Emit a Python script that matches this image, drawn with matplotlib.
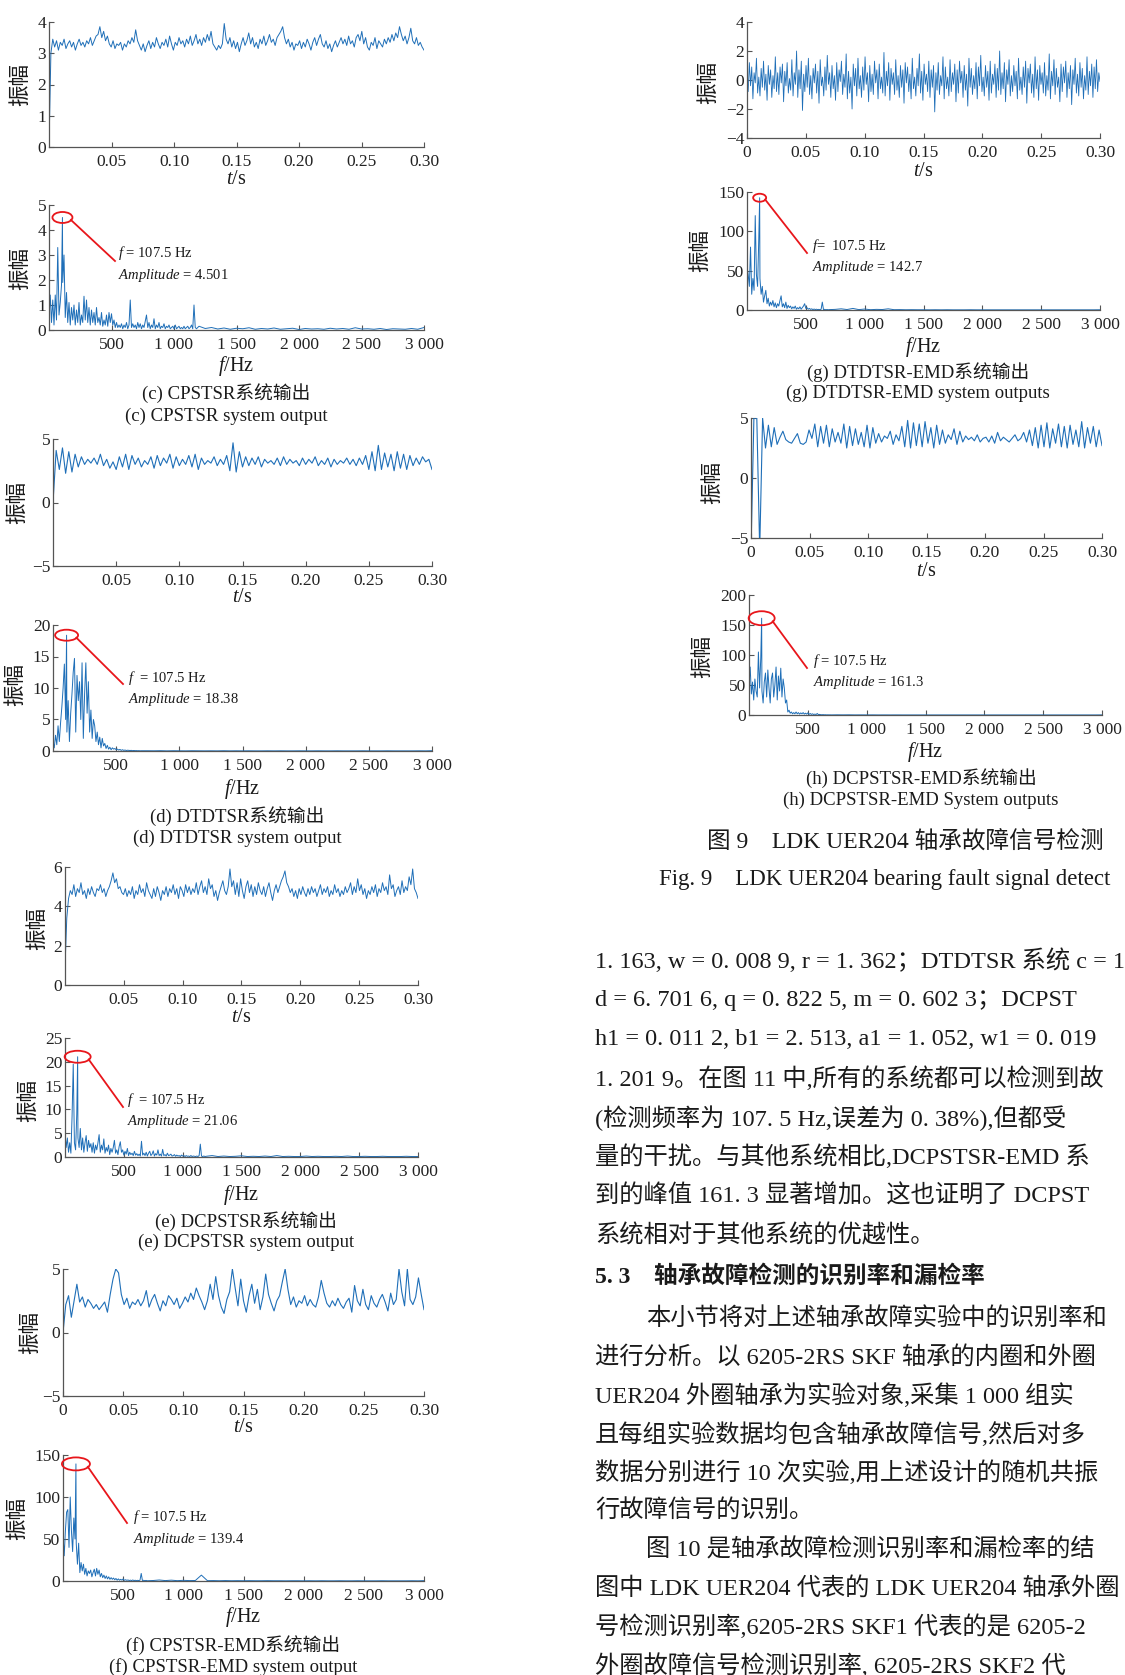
import numpy as np
import matplotlib.pyplot as plt
from matplotlib.patches import Ellipse
from matplotlib.lines import Line2D

plt.rcParams['font.family'] = ['Liberation Serif', 'Noto Sans CJK SC']
plt.rcParams['mathtext.fontset'] = 'custom'
plt.rcParams['mathtext.rm'] = 'Liberation Serif'
plt.rcParams['mathtext.it'] = 'Liberation Serif:italic'
plt.rcParams['axes.unicode_minus'] = True

# ---- time-domain outputs (0 .. 0.3 s) ----
b_time = [0.0, 3.0, 3.45, 3.2, 3.4, 3.1, 3.35, 3.25, 3.45, 3.15, 3.3, 3.4, 3.2, 3.35, 3.1, 3.3, 3.45, 3.25, 3.35, 3.2,
          3.4, 3.3, 3.5, 3.25, 3.4, 3.55, 3.6, 3.85, 3.5, 3.7, 3.4, 3.55, 3.3, 3.2, 3.4, 3.15, 3.3, 3.25, 3.35, 3.1,
          3.3, 3.2, 3.4, 3.3, 3.5, 3.35, 3.75, 3.4, 3.25, 3.1, 3.3, 3.05, 3.25, 3.4, 3.15, 3.35, 3.2, 3.5, 3.3, 3.15,
          3.35, 3.25, 3.45, 3.2, 3.55, 3.3, 3.1, 3.35, 3.25, 3.5, 3.3, 3.4, 3.2, 3.45, 3.3, 3.55, 3.25, 3.4, 3.6, 3.3,
          3.45, 3.25, 3.5, 3.35, 3.6, 3.4, 3.7, 3.3, 3.2, 3.1, 3.25, 3.15, 3.3, 3.95, 3.45, 3.3, 3.5, 3.2, 3.4, 3.15,
          3.35, 3.05, 3.3, 3.5, 3.25, 3.4, 3.65, 3.3, 3.5, 3.2, 3.35, 3.15, 3.45, 3.3, 3.55, 3.25, 3.4, 3.6, 3.35, 3.45,
          3.25, 3.5, 3.6, 3.7, 3.85, 3.5, 3.3, 3.45, 3.2, 3.35, 3.1, 3.3, 3.25, 3.4, 3.15, 3.35, 3.2, 3.45, 3.3, 3.1,
          3.35, 3.5, 3.25, 3.45, 3.6, 3.3, 3.2, 3.4, 3.15, 3.3, 3.05, 3.25, 3.4, 3.2, 3.35, 3.5, 3.3, 3.45, 3.25, 3.55,
          3.3, 3.4, 3.2, 3.5, 3.6, 3.4, 3.7, 3.3, 3.5, 3.2, 3.1, 3.35, 3.25, 3.5, 3.15, 3.4, 3.3, 3.2, 3.45, 3.3,
          3.5, 3.35, 3.6, 3.4, 3.65, 3.5, 3.85, 3.6, 3.4, 3.55, 3.3, 3.5, 3.8, 3.4, 3.3, 3.5, 3.25, 3.35, 3.2, 3.1]
d_time = [0.0, 4.1, 2.6, 4.3, 2.3, 4.0, 2.4, 3.8, 2.8, 3.6, 3.0, 3.4, 3.1, 3.5, 3.0, 3.8, 2.9,
          3.4, 2.7, 3.2, 2.6, 3.6, 2.8, 3.8, 2.6, 3.7, 3.0, 3.5, 2.8, 3.3, 3.0, 3.6, 2.7, 3.7,
          2.9, 3.5, 3.1, 3.8, 2.7, 3.6, 2.9, 3.4, 3.0, 3.7, 2.8, 3.8, 2.6, 3.5, 3.0, 3.3, 3.1,
          3.6, 2.9, 3.4, 3.0, 3.7, 2.5, 4.7, 2.4, 4.0, 2.8, 3.6, 2.9, 3.5, 3.0, 3.6, 2.8, 3.4,
          3.1, 3.3, 3.0, 3.5, 2.9, 3.6, 3.0, 3.4, 3.1, 3.3, 2.9, 3.5, 3.0, 3.4, 3.1, 3.6, 2.9,
          3.3, 3.0, 3.5, 2.8, 3.4, 3.0, 3.3, 3.1, 3.5, 3.0, 3.4, 2.9, 3.5, 3.0, 3.7, 2.6, 4.0,
          2.5, 4.5, 2.6, 3.9, 2.8, 3.8, 2.5, 4.0, 2.7, 3.8, 2.6, 3.7, 2.9, 3.5, 3.0, 3.6, 3.2,
          3.4, 2.6]
e_time = [0.9, 3.4, 4.4, 4.8, 4.6, 5.1, 4.5, 4.9, 4.7, 5.2, 4.6, 4.8, 4.4, 4.9, 4.6, 5.0, 4.7, 4.5, 4.9, 4.8,
          5.1, 4.7, 4.9, 4.5, 4.8, 5.0, 5.3, 5.7, 5.2, 5.4, 4.9, 5.0, 4.7, 4.6, 4.9, 4.5, 4.8, 4.6, 5.0, 4.4,
          4.8, 4.6, 5.1, 4.7, 4.9, 4.5, 5.2, 4.8, 4.6, 4.4, 4.9, 4.5, 5.0, 4.7, 4.3, 4.8, 4.6, 5.0, 4.5, 4.9,
          4.7, 5.1, 4.6, 4.9, 4.4, 5.0, 4.8, 4.5, 5.1, 4.7, 5.0, 4.6, 4.9, 4.7, 5.2, 4.6, 5.0, 5.3, 4.7, 5.0,
          4.6, 5.4, 4.9, 5.1, 4.5, 4.8, 4.3, 4.7, 5.0, 5.3, 4.8, 4.6, 5.0, 5.9, 5.0, 5.3, 4.6, 5.2, 4.5, 5.4,
          4.8, 4.4, 5.0, 5.3, 4.7, 5.1, 4.5, 5.0, 4.6, 5.2, 4.8, 4.6, 5.0, 4.5, 4.9, 5.2, 4.7, 4.3, 4.8, 5.1,
          4.7, 5.0, 5.3, 5.5, 5.8, 5.2, 5.0, 4.7, 4.9, 4.5, 4.8, 4.4, 4.9, 4.6, 5.0, 4.7, 4.5, 4.9, 4.6, 5.0,
          4.7, 4.9, 4.5, 4.8, 5.1, 4.6, 4.9, 4.7, 5.0, 4.5, 4.8, 4.6, 5.1, 4.7, 4.9, 4.5, 4.8, 4.6, 5.0, 4.7,
          4.9, 5.2, 4.6, 5.0, 4.7, 5.4, 4.8, 5.1, 4.6, 4.9, 4.4, 4.8, 4.6, 5.0, 4.7, 5.1, 4.5, 4.9, 4.7, 5.2,
          4.8, 5.0, 4.6, 5.6, 4.9, 5.1, 4.5, 4.8, 5.0, 4.6, 5.3, 4.7, 5.0, 4.8, 5.5, 5.1, 5.9, 4.9, 4.7, 4.4]
f_time = [0.0, 2.2, 2.9, 1.2, 2.5, 3.8, 2.4, 2.8, 2.0, 2.6, 2.3, 1.9, 2.2, 1.8, 2.1, 2.4, 1.6,
          3.0, 4.2, 5.0, 4.7, 3.0, 2.2, 2.7, 1.9, 2.4, 2.2, 2.6, 2.1, 2.5, 3.3, 2.0, 2.6, 3.0,
          2.3, 1.7, 2.5, 2.1, 2.9, 2.6, 2.2, 2.7, 1.9, 2.3, 2.8, 2.4, 3.1, 2.6, 3.5, 2.9, 2.4,
          1.8, 2.5, 3.8, 2.6, 4.4, 2.9, 2.0, 1.5, 2.6, 3.2, 5.0, 3.5, 2.1, 4.2, 2.5, 1.6, 2.9,
          3.8, 2.3, 3.4, 1.8, 2.8, 4.6, 3.0, 2.3, 1.7, 2.5, 2.9, 4.0, 5.0, 3.4, 2.2, 2.8, 2.0,
          2.5, 2.3, 2.9, 2.1, 2.6, 2.2, 2.0, 2.8, 4.1, 3.1, 2.3, 2.0, 2.5, 2.1, 2.7, 2.2, 1.9,
          2.4, 2.7, 1.6, 3.7, 2.5, 2.1, 3.4, 2.2, 1.8, 2.9, 2.3, 2.0, 2.6, 3.0, 2.4, 1.7, 3.1,
          2.2, 2.6, 5.0, 3.2, 2.1, 5.0, 2.6, 2.2, 2.8, 4.3, 3.0, 1.8]
g_time = [0.3, -0.8, 1.2, -0.4, 0.9, -1.3, 0.5, -0.2, 1.5, -0.9, 0.2, -1.1, 0.8, -0.5, 1.3, -0.7, 0.4, -1.4, 1.0, -0.3,
          0.7, -1.2, 0.3, -0.6, 1.6, -0.8, 0.5, -1.0, 0.9, -0.2, 1.1, -1.5, 0.6, -0.4, 1.2, -0.9, 0.1, -0.7, 1.4, -1.1,
          0.5, -0.3, 2.0, -1.2, 0.7, -0.6, 1.3, -2.1, 0.4, -0.8, 1.0, -0.5, 1.5, -1.0, 0.3, -1.3, 0.8, -0.2, 1.1, -0.9,
          0.6, -1.6, 1.4, -0.4, 0.2, -1.1, 0.9, -0.7, 1.7, -0.3, 0.5, -1.2, 1.0, -0.6, 0.3, -1.4, 1.2, -0.8, 0.7, -0.1,
          1.3, -1.0, 0.4, -0.5, 1.8, -1.3, 0.6, -0.9, 0.2, -2.0, 1.1, -0.4, 0.8, -1.1, 1.5, -0.6, 0.3, -1.2, 0.9, -0.7,
          1.6, -0.3, 0.5, -1.5, 1.0, -0.8, 0.4, -1.0, 1.3, -0.2, 0.7, -1.3, 1.1, -0.6, 0.2, -0.9, 1.9, -1.1, 0.6, -0.4,
          1.2, -1.4, 0.8, -0.3, 0.5, -1.0, 1.4, -0.7, 0.3, -1.2, 1.0, -0.5, 0.7, -1.6, 1.2, -0.2, 0.9, -0.8, 0.4, -1.3,
          1.5, -0.6, 0.2, -1.1, 0.8, -0.4, 1.8, -0.9, 0.6, -1.4, 1.1, -0.3, 0.4, -0.8, 1.3, -1.2, 0.7, -0.5, 1.0, -2.2,
          0.5, -0.7, 1.2, -1.0, 0.3, -0.4, 1.6, -1.3, 0.9, -0.6, 0.2, -1.1, 1.4, -0.8, 0.5, -0.3, 1.1, -1.5, 0.7, -0.9,
          1.3, -0.2, 0.6, -1.2, 1.0, -0.7, 0.4, -1.8, 1.5, -0.5, 0.8, -1.0, 0.3, -0.6, 1.2, -1.3, 0.9, -0.4, 1.7, -0.8,
          0.2, -1.1, 1.0, -0.5, 0.6, -1.4, 1.3, -0.9, 0.4, -0.3, 1.1, -1.2, 0.8, -0.7, 2.0, -1.0, 0.5, -0.6, 1.2, -1.5,
          0.7, -0.3, 1.4, -1.1, 0.3, -0.8, 1.0, -0.4, 0.6, -1.3, 1.5, -0.7, 0.2, -1.0, 0.9, -0.5, 1.3, -1.6, 0.8, -0.2,
          1.1, -0.9, 0.4, -1.2, 1.6, -0.6, 0.7, -1.4, 1.0, -0.3, 0.5, -0.9, 1.2, -1.1, 0.3, -0.7, 1.8, -1.3, 0.6, -0.4,
          1.4, -1.0, 0.8, -0.5, 0.2, -1.5, 1.1, -0.8, 0.9, -0.2, 1.3, -1.2, 0.5, -0.6, 1.0, -1.7, 0.7, -0.3, 1.5, -0.9,
          0.4, -1.1, 1.2, -0.5, 0.8, -1.3, 0.3, -0.7, 1.6, -1.0, 0.6, -0.4, 1.1, -1.2, 0.9, -0.6, 1.4, -0.8, 0.5, -0.1]
h_time = [-6.0, 5.0, 5.0, -6.0, 5.0, 2.5, 4.4, 2.6, 4.2, 2.8, 3.4, 3.9, 3.2, 3.0, 2.9, 3.3,
          3.7, 2.9, 2.8, 3.0, 4.0, 3.3, 4.5, 2.6, 4.3, 2.9, 4.4, 2.6, 4.1, 3.0, 3.8, 2.9, 4.5,
          2.5, 4.3, 2.7, 4.1, 2.8, 3.8, 2.6, 4.4, 2.5, 4.2, 2.9, 3.7, 3.0, 3.5, 3.3, 3.9, 2.8,
          3.6, 3.1, 4.3, 2.6, 4.8, 2.5, 4.6, 2.7, 4.5, 2.6, 4.7, 2.9, 4.2, 2.5, 4.4, 2.8, 4.0,
          2.9, 3.6, 3.2, 4.1, 2.8, 3.9, 3.0, 3.5, 3.2, 3.4, 3.1, 3.6, 3.0, 3.3, 3.4, 3.0, 3.5,
          2.9, 3.8, 3.1, 3.4, 3.2, 3.0, 3.3, 3.6, 3.1, 3.3, 3.8, 3.0, 4.0, 2.7, 4.2, 2.5, 4.4,
          2.6, 4.6, 2.5, 4.1, 2.9, 4.5, 2.6, 4.3, 2.5, 4.4, 2.8, 4.0, 2.6, 4.7, 2.5, 4.2, 2.9,
          4.3, 2.6, 4.0, 2.7]

# ---- amplitude spectra: 10 Hz bins for the low band, 50 Hz bins up to 3000 Hz ----
PEAK_F = 107.5
c_low = [0.5, 1.4, 0.3, 1.2, 0.2, 1.4, 0.4, 3.3, 0.6, 1.1, 1.8, 1.9, 3.0, 0.5, 1.5, 0.3, 1.1,
         0.2, 0.9, 0.4, 1.0, 0.2, 0.8, 0.3, 1.1, 0.2, 0.6, 0.3, 1.35, 0.4, 1.2, 0.3, 0.9, 0.2,
         0.8, 0.3, 0.7, 0.2, 0.9, 0.3, 0.5, 0.2, 0.7, 0.15, 0.4, 0.2, 0.6, 0.15, 0.7, 0.3, 0.65,
         0.2, 0.4, 0.1, 0.3, 0.1, 0.2, 0.1, 0.25, 0.05, 0.2, 0.1, 0.3, 0.05, 0.2, 1.2, 0.1,
         0.25, 0.1, 0.2, 0.05, 0.3, 0.1, 0.25, 0.05, 0.2, 0.1, 0.35, 0.6, 0.1, 0.3, 0.05, 0.2,
         0.1, 0.45, 0.05, 0.2, 0.1, 0.3, 0.05, 0.15, 0.1, 0.25, 0.05, 0.15, 0.1, 0.2, 0.05, 0.1,
         0.15, 0.05, 0.2, 0.05, 0.1, 0.15, 0.05, 0.1, 0.05, 0.15, 0.05, 0.1, 0.15, 0.05, 0.1,
         0.2, 0.05, 1.0, 0.1, 0.05, 0.1, 0.15]
c_tail = [0.06, 0.1, 0.04, 0.08, 0.03, 0.07, 0.05, 0.09, 0.03, 0.06, 0.04, 0.08, 0.03, 0.05,
          0.07, 0.02, 0.06, 0.04, 0.05, 0.03, 0.07, 0.04, 0.06, 0.03, 0.09, 0.04, 0.05, 0.03,
          0.06, 0.02, 0.05, 0.04, 0.03, 0.06, 0.03, 0.1]
c_peak = 4.501

d_low = [1.5, 0.5, 2.5, 1.0, 4.0, 1.5, 4.5, 7.0, 10.0, 13.8, 5.0, 3.0, 8.0, 1.5, 6.0, 9.0,
         12.5, 14.7, 3.0, 12.0, 8.0, 11.0, 5.0, 14.0, 2.0, 9.0, 14.0, 6.0, 11.0, 3.0, 6.5, 2.0,
         5.0, 4.0, 1.5, 3.0, 1.0, 2.2, 0.5, 2.0, 0.8, 1.2, 0.4, 0.9, 0.3, 0.6, 0.2, 0.5, 0.3,
         0.4, 0.2, 0.3, 0.15, 0.25, 0.1, 0.2, 0.1, 0.15, 0.08, 0.12, 0.1, 0.08, 0.1, 0.05, 0.08,
         0.05, 0.06, 0.04, 0.05, 0.03, 0.04]
d_tail = [0.04, 0.03, 0.05, 0.02, 0.04, 0.03, 0.02, 0.04, 0.03, 0.02, 0.03, 0.02, 0.04, 0.02,
          0.03, 0.02, 0.03, 0.02, 0.02, 0.03, 0.02, 0.03, 0.02, 0.02, 0.03, 0.02, 0.02, 0.03,
          0.02, 0.02, 0.03, 0.02, 0.02, 0.02, 0.03, 0.02, 0.02, 0.02, 0.03, 0.02, 0.02, 0.02,
          0.02, 0.03, 0.02, 0.05]
d_peak = 18.38

e_low = [5.0, 2.0, 4.0, 1.0, 3.0, 0.8, 8.5, 19.5, 3.0, 1.5, 9.0, 4.0, 2.0, 6.0, 1.5, 4.0, 1.0,
         3.0, 4.5, 1.2, 3.5, 2.0, 2.8, 1.0, 3.0, 0.8, 2.5, 1.5, 3.0, 4.7, 1.0, 2.5, 1.5, 3.8,
         0.8, 2.0, 1.2, 2.5, 0.5, 1.8, 1.0, 2.0, 3.5, 0.8, 1.5, 0.5, 2.2, 3.2, 1.0, 1.5, 0.4,
         1.2, 0.6, 1.8, 0.3, 1.0, 0.5, 0.8, 0.3, 1.2, 0.4, 0.7, 0.3, 0.6, 0.2, 3.3, 0.4, 0.8,
         0.3, 1.0, 0.2, 0.8, 1.2, 0.3, 0.6, 1.3, 0.2, 0.7, 0.4, 1.5, 0.3, 0.6, 0.2, 1.6, 0.3,
         0.5, 0.2, 0.8, 0.3, 0.4, 0.6, 0.2, 0.3, 0.5, 0.15, 0.4, 0.2, 0.3, 0.1, 0.4, 0.2, 0.3,
         0.1, 0.3, 0.15, 0.2, 0.1, 0.3, 0.1, 0.2, 0.15, 0.1, 0.2, 0.1, 0.3, 2.7, 0.2, 0.1, 0.2,
         0.1, 0.15]
e_tail = [0.3, 0.1, 0.2, 0.1, 0.15, 0.25, 0.1, 0.15, 0.1, 0.2, 0.1, 0.3, 0.1, 0.15, 0.1, 0.1,
          0.2, 0.1, 0.15, 0.1, 0.1, 0.15, 0.1, 0.2, 0.1, 0.1, 0.15, 0.1, 0.1, 0.15, 0.1, 0.1,
          0.1, 0.15, 0.1, 0.1]
e_peak = 21.06

f_low = [55, 30, 60, 82, 85, 40, 100, 60, 35, 75, 50, 45, 20, 45, 10, 22, 12, 20, 8, 15, 6,
         12, 9, 13, 5, 10, 14, 6, 15, 8, 13, 5, 9, 4, 7, 3, 6, 2.5, 5, 2, 4, 2, 3.5, 1.5, 3, 1,
         2.5, 1, 2, 1, 2.5, 0.8, 1.5, 0.8, 1.2, 0.6, 1.0, 0.5, 1.2, 0.5, 0.9, 0.4, 0.8, 0.5,
         1.0, 9.0, 0.6, 0.8, 0.4, 0.7, 0.3]
f_tail = [0.6, 1.2, 0.5, 1.0, 0.4, 0.8, 0.5, 0.6, 7.0, 0.4, 0.5, 0.3, 0.5, 0.3, 0.4, 0.3, 0.4,
          0.3, 0.3, 0.4, 0.3, 0.3, 0.2, 0.3, 0.3, 0.2, 0.3, 0.2, 0.3, 0.2, 0.2, 0.3, 0.2, 0.2,
          0.3, 0.2, 0.2, 0.2, 0.3, 0.2, 0.2, 0.2, 0.2, 0.3, 0.2, 0.4]
f_peak = 139.4

g_low = [55, 45, 30, 80, 20, 40, 25, 120, 45, 30, 90, 40, 20, 30, 10, 18, 25, 8, 15, 5, 10, 6,
         12, 4, 9, 3, 8, 5, 12, 18, 4, 8, 3, 10, 2, 6, 3, 5, 1.5, 4, 2, 5, 1, 3, 1.5, 4, 1, 3, 5,
         8, 2, 3, 1, 2, 0.8, 1.5, 0.5, 1.2, 0.6, 1.0, 0.5, 0.8, 0.4, 1.0, 10, 0.6, 0.8, 0.3,
         0.6, 0.3, 0.5]
g_tail = [0.8, 1.5, 0.6, 2.0, 0.5, 1.2, 0.4, 0.8, 0.6, 1.5, 0.4, 0.5, 0.3, 0.4, 0.3, 0.3, 0.2,
          0.3, 0.2, 0.3, 0.2, 0.2, 0.2, 0.3, 0.2, 0.2, 0.2, 0.2, 0.2, 0.2, 0.2, 0.2, 0.2, 0.2,
          0.2, 0.2, 0.2, 0.2, 0.2, 0.2, 0.2, 0.2, 0.2, 0.2, 0.2, 0.3]
g_peak = 142.7

h_low = [50, 80, 35, 55, 25, 60, 40, 30, 105, 45, 95, 40, 20, 55, 70, 30, 75, 45, 20, 60, 70,
         30, 50, 80, 25, 65, 40, 78, 30, 60, 45, 20, 25, 5, 8, 3, 5, 2, 4, 2, 5, 2, 4, 1.5, 3.5,
         2, 4, 1.5, 3, 1.5, 3.5, 1, 2.5, 1, 2, 0.8, 1.5, 0.8, 2.5, 0.6, 1, 0.5, 0.4, 0.6, 0.3,
         0.4, 0.2, 0.3, 0.2, 0.25, 0.15]
h_tail = [0.3, 0.2, 0.3, 0.15, 0.2, 0.15, 0.2, 0.1, 0.15, 0.1, 0.15, 0.1, 0.1, 0.1, 0.1, 0.1,
          0.1, 0.1, 0.1, 0.1, 0.1, 0.1, 0.1, 0.1, 0.1, 0.1, 0.1, 0.1, 0.1, 0.1, 0.1, 0.1, 0.1,
          0.1, 0.1, 0.1, 0.1, 0.1, 0.1, 0.1, 0.1, 0.1, 0.1, 0.1, 0.1, 0.2]
h_peak = 161.3

t_ticks = [0, 0.05, 0.10, 0.15, 0.20, 0.25, 0.30]
f_ticks = [500, 1000, 1500, 2000, 2500, 3000]
f_labels = ['500', '1 000', '1 500', '2 000', '2 500', '3 000']

# body text as far as the page edge shows it
para1 = ['1. 163, w = 0. 008 9, r = 1. 362；DTDTSR 系统 c = 1',
         'd = 6. 701 6, q = 0. 822 5, m = 0. 602 3；DCPST',
         'h1 = 0. 011 2, b1 = 2. 513, a1 = 1. 052, w1 = 0. 019',
         '1. 201 9。在图 11 中,所有的系统都可以检测到故',
         '(检测频率为 107. 5 Hz,误差为 0. 38%),但都受',
         '量的干扰。与其他系统相比,DCPSTSR-EMD 系',
         '到的峰值 161. 3 显著增加。这也证明了 DCPST',
         '系统相对于其他系统的优越性。']
heading = '5. 3　轴承故障检测的识别率和漏检率'
para2 = ['本小节将对上述轴承故障实验中的识别率和',
         '进行分析。以 6205-2RS SKF 轴承的内圈和外圈',
         'UER204 外圈轴承为实验对象,采集 1 000 组实',
         '且每组实验数据均包含轴承故障信号,然后对多',
         '数据分别进行 10 次实验,用上述设计的随机共振',
         '行故障信号的识别。',
         '图 10 是轴承故障检测识别率和漏检率的结',
         '图中 LDK UER204 代表的 LDK UER204 轴承外圈',
         '号检测识别率,6205-2RS SKF1 代表的是 6205-2',
         '外圈故障信号检测识别率, 6205-2RS SKF2 代']
indented = [0, 6]

W, H = 1125, 1675
fig = plt.figure(figsize=(W / 100, H / 100), dpi=100)
BLUE = '#1f6fb8'
RED = '#e8161b'
CJK = ['Noto Sans CJK SC', 'DejaVu Sans']


def to_fig(x, y):
    return x / W, 1 - y / H


def px_text(x, y, s, size, ha='center', va='center', **kw):
    fx, fy = to_fig(x, y)
    fig.text(fx, fy, s, fontsize=size, ha=ha, va=va, color='#1a1a1a', **kw)


def make_axes(box, ylim, yticks):
    l, t, r, b = box
    ax = fig.add_axes([l / W, 1 - b / H, (r - l) / W, (b - t) / H])
    for s in ['top', 'right']:
        ax.spines[s].set_visible(False)
    for s in ['left', 'bottom']:
        ax.spines[s].set_color('#555555')
        ax.spines[s].set_linewidth(0.9)
    ax.tick_params(direction='in', length=3.5, width=0.8, color='#555555',
                   labelsize=12.5, labelcolor='#222222', pad=5)
    ax.tick_params(axis='y', pad=2)
    ax.set_ylim(*ylim)
    ax.set_yticks(yticks)
    return ax


def time_panel(box, y, ylim, yticks, zero_label, xlab_y, ylab_xy, lw=0.8):
    ax = make_axes(box, ylim, yticks)
    t = np.linspace(0, 0.3, len(y))
    ax.plot(t, y, color=BLUE, lw=lw)
    ax.set_xlim(0, 0.3)
    ticks = t_ticks if zero_label else t_ticks[1:]
    ax.set_xticks(ticks, ['0' if v == 0 else f'{v:.2f}' for v in ticks])
    px_text((box[0] + box[2]) / 2, xlab_y, '$t$/s', 14.5)
    px_text(ylab_xy[0], ylab_xy[1], '振幅', 15.5, rotation=90, family=CJK)
    return ax


def spec_panel(box, low, tail, peak, ylim, yticks, xlab_y, ylab_xy,
               ell_wh, line_end, txt_xy, f_text):
    ax = make_axes(box, ylim, yticks)
    n = len(low)
    f = np.concatenate([np.arange(n) * 10.0, (n - 1) * 10.0 + 50.0 * np.arange(1, len(tail) + 1)])
    a = np.concatenate([low, tail]).astype(float)
    k = np.searchsorted(f, PEAK_F)
    f = np.insert(f, k, PEAK_F)
    a = np.insert(a, k, peak)
    ax.plot(f, a, color=BLUE, lw=0.7)
    ax.set_xlim(0, 3000)
    ax.set_xticks(f_ticks, f_labels)
    px_text((box[0] + box[2]) / 2, xlab_y, '$f$/Hz', 14.5)
    px_text(ylab_xy[0], ylab_xy[1], '振幅', 15.5, rotation=90, family=CJK)

    # red ellipse round the peak and the leader line to the note
    cx, cy = fig.transFigure.inverted().transform(ax.transData.transform((PEAK_F, peak)))
    w, h = ell_wh
    fig.add_artist(Ellipse((cx, cy), w / W, h / H, transform=fig.transFigure,
                           fill=False, ec=RED, lw=1.3))
    sx, sy = cx + 0.85 * w / 2 / W, cy - 0.45 * h / 2 / H
    ex, ey = to_fig(*line_end)
    fig.add_artist(Line2D([sx, ex], [sy, ey], transform=fig.transFigure, color=RED, lw=1.3))
    px_text(txt_xy[0], txt_xy[1], f_text, 10.5, ha='left')
    px_text(txt_xy[0], txt_xy[1] + 22, f'$Amplitude$ = {peak}', 10.5, ha='left')
    return ax


# left column
time_panel((49, 22, 424, 147), b_time, (0, 4), [0, 1, 2, 3, 4], False, 179, (20, 85), lw=0.7)
spec_panel((49, 205, 424, 330), c_low, c_tail, c_peak, (0, 5), [0, 1, 2, 3, 4, 5], 366, (20, 268),
           (20, 11), (115, 261), (118, 253), '$f$ = 107.5 Hz')
px_text(226, 393, '(c) CPSTSR系统输出', 13.5)
px_text(226, 416, '(c) CPSTSR system output', 13.5)

time_panel((53, 439, 432, 566), d_time, (-5, 5), [-5, 0, 5], False, 598, (17, 502))
spec_panel((53, 625, 432, 751), d_low, d_tail, d_peak, (0, 20), [0, 5, 10, 15, 20], 789, (15, 685),
           (23, 11), (123, 684), (128, 678), '$f$  = 107.5 Hz')
px_text(237, 816, '(d) DTDTSR系统输出', 13.5)
px_text(237, 838, '(d) DTDTSR system output', 13.5)

time_panel((65, 867, 418, 985), e_time, (0, 6), [0, 2, 4, 6], False, 1017, (37, 928), lw=0.7)
spec_panel((65, 1038, 418, 1157), e_low, e_tail, e_peak, (0, 25), [0, 5, 10, 15, 20, 25], 1195,
           (28, 1100), (26, 12), (123, 1107), (127, 1100), '$f$  = 107.5 Hz')
px_text(246, 1221, '(e) DCPSTSR系统输出', 13.5)
px_text(246, 1242, '(e) DCPSTSR system output', 13.5)

time_panel((63, 1269, 424, 1396), f_time, (-5, 5), [-5, 0, 5], True, 1428, (30, 1333))
spec_panel((63, 1455, 424, 1581), f_low, f_tail, f_peak, (0, 150), [0, 50, 100, 150], 1617,
           (17, 1518), (28, 13), (127, 1523), (133, 1517), '$f$ = 107.5 Hz')
px_text(233, 1645, '(f) CPSTSR-EMD系统输出', 13.5)
px_text(233, 1667, '(f) CPSTSR-EMD system output', 13.5)

# right column
time_panel((747, 22, 1100, 138), g_time, (-4, 4), [-4, -2, 0, 2, 4], True, 172, (708, 82), lw=0.6)
spec_panel((747, 192, 1100, 310), g_low, g_tail, g_peak, (0, 150), [0, 50, 100, 150], 347,
           (700, 250), (13, 8), (807, 253), (812, 246), '$f$=  107.5 Hz')
px_text(918, 372, '(g) DTDTSR-EMD系统输出', 13.5)
px_text(918, 393, '(g) DTDTSR-EMD system outputs', 13.5)

time_panel((751, 418, 1102, 538), h_time, (-5, 5), [-5, 0, 5], True, 572, (712, 483))
spec_panel((749, 595, 1102, 715), h_low, h_tail, h_peak, (0, 200), [0, 50, 100, 150, 200], 752,
           (702, 657), (26, 14), (807, 668), (813, 661), '$f$ = 107.5 Hz')
px_text(921, 778, '(h) DCPSTSR-EMD系统输出', 13.5)
px_text(921, 800, '(h) DCPSTSR-EMD System outputs', 13.5)

px_text(707, 842, '图 9　LDK UER204 轴承故障信号检测', 17, ha='left')
px_text(659, 879, 'Fig. 9　LDK UER204 bearing fault signal detect', 16.5, ha='left')

# body text on the right
for i, line in enumerate(para1):
    px_text(595, 961 + i * 39.2, line, 17.5, ha='left')
px_text(595, 1276, heading, 17, ha='left', fontweight='bold')
for i, line in enumerate(para2):
    x = 646 if i in indented else 595
    px_text(x, 1319 + i * 38.5, line, 17.5, ha='left')

fig.savefig('out.png', dpi=100)
